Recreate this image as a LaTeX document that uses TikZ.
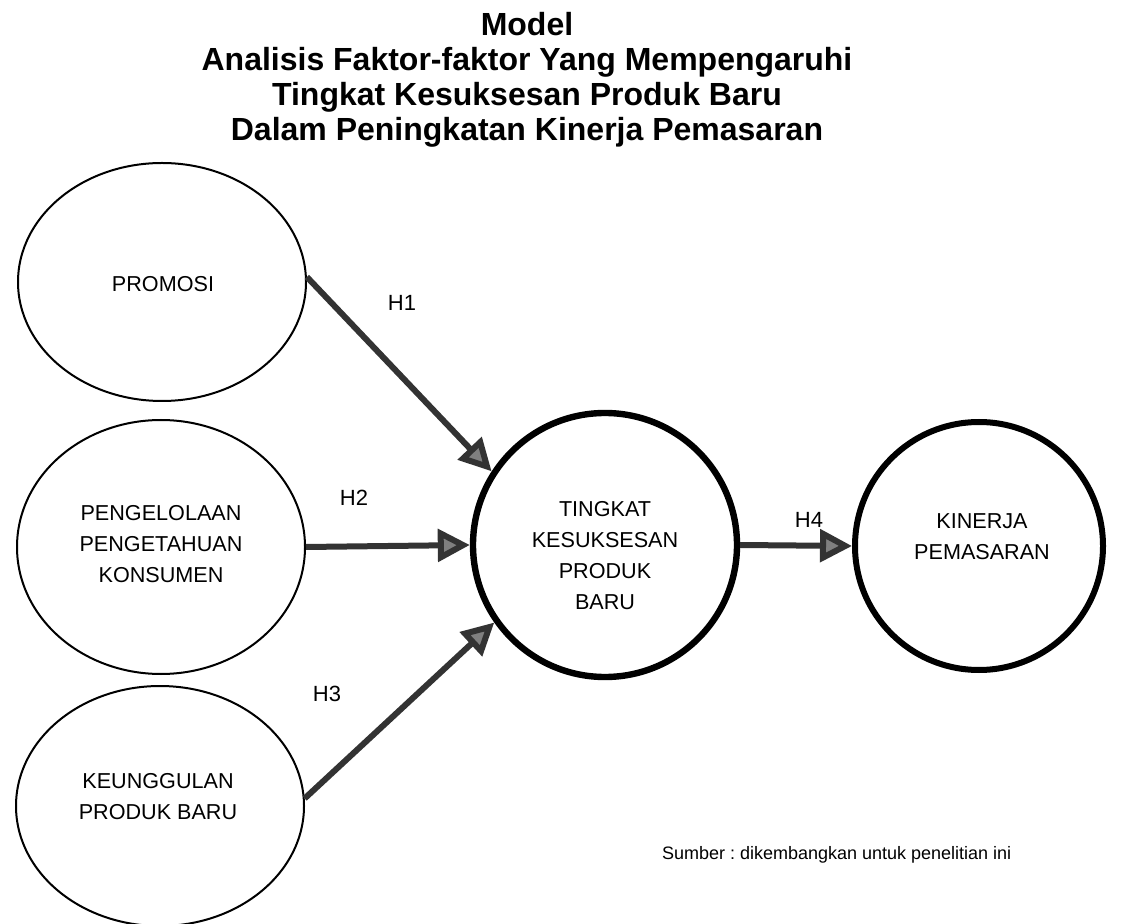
\documentclass[tikz,border=0pt]{standalone}
\usepackage{fontspec}
\setmainfont{Liberation Sans}
\frenchspacing
\usetikzlibrary{arrows.meta,shapes.geometric}
\tikzset{
  var/.style={draw, ellipse, line width=1pt, minimum width=144pt, inner sep=0pt},
  core/.style={draw, circle, line width=3.2pt, inner sep=0pt},
  txt/.style={align=center, font=\fontsize{10.8}{15.5}\selectfont},
  link/.style={line width=3pt, draw=black!80,
    -{Triangle[length=16pt, width=16pt, fill=black!50]}},
  hyp/.style={font=\fontsize{11}{13}\selectfont},
}
\begin{document}
\begin{tikzpicture}[x=0.5pt, y=-0.5pt]
  \useasboundingbox (0,0) rectangle (1124,924);
  % title block
  \node[align=center, font=\bfseries\fontsize{16}{17.5}\selectfont] (title) at (527,80)
    {Model\\Analisis Faktor-faktor Yang Mempengaruhi\\Tingkat Kesuksesan Produk Baru\\Dalam Peningkatan Kinerja Pemasaran};
  % exogenous constructs
  \node[var, minimum height=119pt] (promosi) at (162,282) {};
  \node[var, minimum height=127pt] (pengetahuan) at (161,547) {};
  \node[var, minimum height=120pt] (keunggulan) at (160,806) {};
  \node[txt] (tpromosi) at (163,284) {PROMOSI};
  \node[txt] (tpengetahuan) at (161,544) {PENGELOLAAN\\PENGETAHUAN\\KONSUMEN};
  \node[txt] (tkeunggulan) at (158,797) {KEUNGGULAN\\PRODUK BARU};
  % endogenous constructs
  \node[core, minimum size=132pt] (sukses) at (605,545) {};
  \node[core, line width=3pt, minimum size=124pt] (kinerja) at (979,546) {};
  \node[txt] (tsukses) at (605,556) {TINGKAT\\KESUKSESAN\\PRODUK\\BARU};
  \node[txt] (tkinerja) at (982,537) {KINERJA\\PEMASARAN};
  % hypothesised paths
  \draw[link] (promosi.2) -- (sukses.147);
  \draw[link] (pengetahuan.east) -- (sukses.west);
  \draw[link] (keunggulan.3) -- (sukses.-145);
  \draw[link] (sukses.east) -- (kinerja.west);
  % hypothesis labels
  \node[hyp] (h1) at (402,303) {H1};
  \node[hyp] (h2) at (354,498) {H2};
  \node[hyp] (h3) at (327,694) {H3};
  \node[hyp] (h4) at (809,520) {H4};
  % source note
  \node[font=\fontsize{9}{11}\selectfont, anchor=west] (sumber) at (655,855)
    {Sumber : dikembangkan untuk penelitian ini};
\end{tikzpicture}
\end{document}
